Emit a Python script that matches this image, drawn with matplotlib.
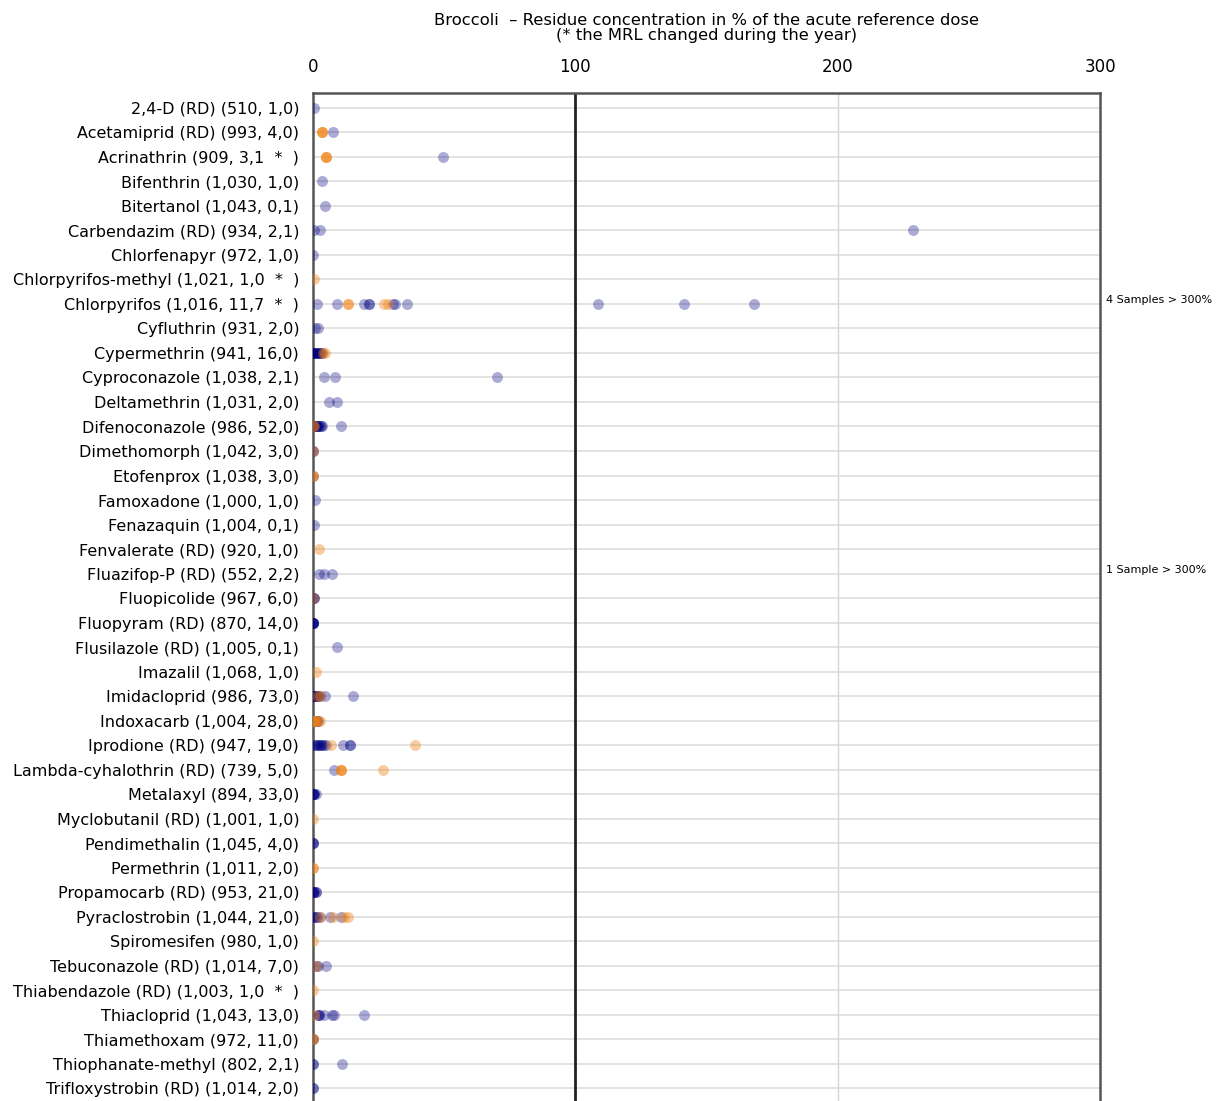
import numpy as np
import matplotlib
matplotlib.use("Agg")
import matplotlib.pyplot as plt

labels = [
    "2,4-D (RD) (510, 1,0)",
    "Acetamiprid (RD) (993, 4,0)",
    "Acrinathrin (909, 3,1  *  )",
    "Bifenthrin (1,030, 1,0)",
    "Bitertanol (1,043, 0,1)",
    "Carbendazim (RD) (934, 2,1)",
    "Chlorfenapyr (972, 1,0)",
    "Chlorpyrifos-methyl (1,021, 1,0  *  )",
    "Chlorpyrifos (1,016, 11,7  *  )",
    "Cyfluthrin (931, 2,0)",
    "Cypermethrin (941, 16,0)",
    "Cyproconazole (1,038, 2,1)",
    "Deltamethrin (1,031, 2,0)",
    "Difenoconazole (986, 52,0)",
    "Dimethomorph (1,042, 3,0)",
    "Etofenprox (1,038, 3,0)",
    "Famoxadone (1,000, 1,0)",
    "Fenazaquin (1,004, 0,1)",
    "Fenvalerate (RD) (920, 1,0)",
    "Fluazifop-P (RD) (552, 2,2)",
    "Fluopicolide (967, 6,0)",
    "Fluopyram (RD) (870, 14,0)",
    "Flusilazole (RD) (1,005, 0,1)",
    "Imazalil (1,068, 1,0)",
    "Imidacloprid (986, 73,0)",
    "Indoxacarb (1,004, 28,0)",
    "Iprodione (RD) (947, 19,0)",
    "Lambda-cyhalothrin (RD) (739, 5,0)",
    "Metalaxyl (894, 33,0)",
    "Myclobutanil (RD) (1,001, 1,0)",
    "Pendimethalin (1,045, 4,0)",
    "Permethrin (1,011, 2,0)",
    "Propamocarb (RD) (953, 21,0)",
    "Pyraclostrobin (1,044, 21,0)",
    "Spiromesifen (980, 1,0)",
    "Tebuconazole (RD) (1,014, 7,0)",
    "Thiabendazole (RD) (1,003, 1,0  *  )",
    "Thiacloprid (1,043, 13,0)",
    "Thiamethoxam (972, 11,0)",
    "Thiophanate-methyl (802, 2,1)",
    "Trifloxystrobin (RD) (1,014, 2,0)",
]

# residue values (% ARfD) per substance, blue series
blue_vals = [
    [0.3],
    [7.7],
    [49.5],
    [3.3],
    [4.4],
    [0.3, 2.5, 228.6],
    [0.1],
    [],
    [1.5, 9.0, 19.5, 21.3, 21.3, 30.3, 31.2, 35.7, 108.6, 141.3, 167.9],
    [0.8, 2.0],
    [0.0, 0.0, 0.0, 0.0, 0.5, 1.0, 1.5, 2.0, 2.0, 2.5, 3.0, 3.5],
    [4.2, 8.3, 70.3],
    [6.1, 9.1],
    [0.0, 0.0, 0.0, 0.5, 0.5, 1.0, 1.0, 1.5, 2.0, 2.0, 2.5, 3.0, 3.5, 10.7],
    [0.0, 0.0],
    [0.0],
    [0.9],
    [0.5],
    [],
    [2.2, 4.3, 7.2],
    [0.0, 0.5, 0.5],
    [0.0, 0.0, 0.0, 0.0, 0.0, 0.0],
    [9.0],
    [],
    [0.0, 0.0, 0.0, 0.5, 0.5, 1.0, 1.0, 1.5, 1.5, 2.0, 2.5, 4.7, 15.4],
    [1.0, 1.5, 2.0],
    [0.5, 1.0, 1.5, 2.0, 2.5, 3.0, 3.5, 4.0, 5.0, 11.3, 14.0, 14.0],
    [8.1],
    [0.0, 0.0, 0.0, 0.5, 0.5, 1.0],
    [],
    [0.0, 0.0, 0.0],
    [],
    [0.0, 0.0, 0.0, 0.5, 1.0, 1.3],
    [0.0, 0.5, 1.0, 1.5, 2.8, 6.6, 10.7],
    [],
    [1.3, 1.8, 4.8],
    [],
    [1.8, 2.3, 2.3, 4.1, 7.1, 7.9, 19.3],
    [0.0, 0.0],
    [0.1, 0.1, 11.2],
    [0.0, 0.0],
]

# orange series
orange_vals = [
    [],
    [3.3, 3.3, 3.3],
    [4.8, 4.8, 4.8],
    [],
    [],
    [],
    [],
    [0.5],
    [13.3, 13.3, 27.2, 28.7],
    [],
    [3.8, 4.5],
    [],
    [],
    [0.0, 0.5],
    [0.0],
    [0.0, 0.0],
    [],
    [],
    [2.2],
    [],
    [0.0],
    [],
    [],
    [1.3],
    [1.5, 2.5],
    [0.0, 0.0, 0.5, 1.0, 1.5, 2.5],
    [6.9, 39.0],
    [10.8, 10.8, 10.8, 26.5],
    [],
    [0.0],
    [],
    [0.0, 0.0],
    [],
    [2.8, 7.5, 11.7, 13.5],
    [0.0],
    [1.3],
    [0.0],
    [0.3],
    [0.0, 0.0],
    [],
    [],
]

over_notes = {8: "4 Samples > 300%", 19: "1 Sample > 300%"}

n = len(labels)
ypos = np.arange(n)

fig = plt.figure(figsize=(12.2, 11.01), dpi=100)
ax = fig.add_axes([0.2566, -0.002, 0.6451, 0.9175])

for i in range(n):
    ax.axhline(i, color="#e0e0e0", lw=1.3, zorder=0)

ax.axvline(200, color="#d4d4d4", lw=1.0, zorder=0)
ax.axvline(100, color="#222222", lw=2.0, zorder=1)

for i in range(n):
    if blue_vals[i]:
        ax.scatter(blue_vals[i], [i] * len(blue_vals[i]), s=62, color="#000080",
                   alpha=0.33, linewidths=0, zorder=3)
    if orange_vals[i]:
        ax.scatter(orange_vals[i], [i] * len(orange_vals[i]), s=62, color="#f08010",
                   alpha=0.4, linewidths=0, zorder=3)

ax.set_xlim(0, 300)
ax.set_ylim(n - 0.4, -0.6)
ax.set_yticks(ypos)
ax.set_yticklabels(labels, fontsize=11.5)
ax.set_xticks([0, 100, 200, 300])
ax.xaxis.tick_top()
ax.tick_params(axis="x", length=0, labelsize=12, pad=12)
ax.tick_params(axis="y", length=0, pad=10)
for s in ax.spines.values():
    s.set_color("#555555")
    s.set_linewidth(1.8)

for i, t in over_notes.items():
    ax.text(1.008, i - 0.15, t, transform=ax.get_yaxis_transform(),
            fontsize=8, va="center", ha="left")

fig.text(0.579, 0.988, "Broccoli  \u2013 Residue concentration in % of the acute reference dose\n"
         "(* the MRL changed during the year)", ha="center", va="top",
         fontsize=11.8, linespacing=1.0)

fig.savefig("out.png", dpi=100)
